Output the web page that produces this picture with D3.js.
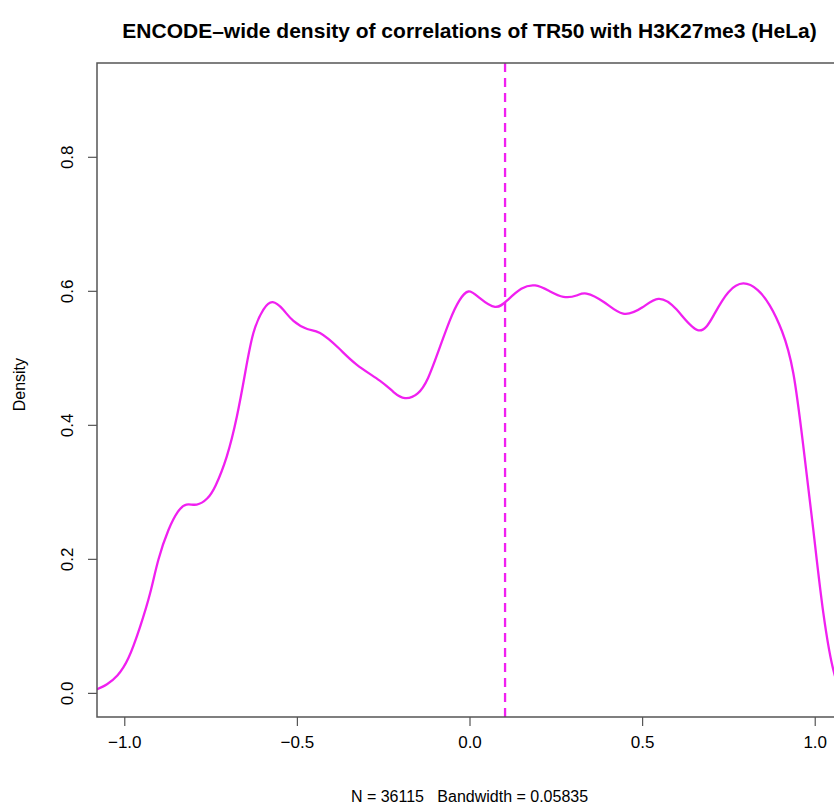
<!DOCTYPE html>
<html>
<head>
<meta charset="utf-8">
<script src="https://cdn.jsdelivr.net/npm/d3@7"></script>
<style>
  body { margin: 0; background: #fff; }
  text { font-family: "Liberation Sans", Arial, Helvetica, sans-serif; fill: #000; }
</style>
</head>
<body>
<svg id="chart" width="834" height="806"></svg>
<script>
// density estimate
var xVals = [-1.08, -1.05, -1.02, -0.988, -0.954, -0.925, -0.901, -0.872, -0.845, -0.82,
    -0.79, -0.76, -0.735, -0.703, -0.674, -0.65, -0.626, -0.597, -0.57, -0.54,
    -0.51, -0.47, -0.433, -0.38, -0.327, -0.26, -0.22, -0.187, -0.15, -0.12,
    -0.09, -0.056, -0.03, -0.003, 0.03, 0.074, 0.11, 0.15, 0.19, 0.23,
    0.272, 0.31, 0.339, 0.39, 0.445, 0.50, 0.547, 0.60, 0.663, 0.71,
    0.75, 0.793, 0.835, 0.87, 0.905, 0.938, 0.967, 0.996, 1.025, 1.056, 1.08];
var yVals = [0.005, 0.013, 0.026, 0.052, 0.099, 0.149, 0.199, 0.243, 0.27, 0.281,
    0.281, 0.29, 0.31, 0.353, 0.412, 0.477, 0.537, 0.572, 0.583, 0.572,
    0.555, 0.543, 0.537, 0.515, 0.49, 0.466, 0.449, 0.44, 0.447, 0.47,
    0.51, 0.557, 0.585, 0.599, 0.589, 0.576, 0.586, 0.603, 0.608, 0.60,
    0.591, 0.593, 0.596, 0.583, 0.566, 0.575, 0.588, 0.572, 0.541, 0.566,
    0.598, 0.611, 0.601, 0.578, 0.54, 0.477, 0.368, 0.243, 0.119, 0.03, 0.005];
var xTicks = [-1.0, -0.5, 0.0, 0.5, 1.0];
var yTicks = [0.0, 0.2, 0.4, 0.6, 0.8];
var markX = 0.103;

var titleText = "ENCODE\u2013wide density of correlations of TR50 with H3K27me3 (HeLa)";
var subText = "N = 36115   Bandwidth = 0.05835";

var svg = d3.select("#chart");
var pLeft = 97, pRight = 842, pTop = 63, pBottom = 717;

var x = d3.scaleLinear().domain([-1.079, 1.079]).range([pLeft, pRight]);
var y = d3.scaleLinear().domain([-0.036, 0.94]).range([pBottom, pTop]);

var pts = xVals.map(function(d, i) { return [d, yVals[i]]; });

// curve
var line = d3.line()
    .x(function(d) { return x(d[0]); })
    .y(function(d) { return y(d[1]); })
    .curve(d3.curveNatural);

svg.append("defs").append("clipPath").attr("id", "clip")
    .append("rect").attr("x", pLeft).attr("y", pTop)
    .attr("width", pRight - pLeft).attr("height", pBottom - pTop);

svg.append("path")
    .datum(pts)
    .attr("clip-path", "url(#clip)")
    .attr("fill", "none")
    .attr("stroke", "#f020f0")
    .attr("stroke-width", 2.3)
    .attr("d", line);

// dashed marker
svg.append("line")
    .attr("x1", x(markX)).attr("x2", x(markX))
    .attr("y1", pTop).attr("y2", pBottom)
    .attr("stroke", "#f020f0")
    .attr("stroke-width", 2.3)
    .attr("stroke-dasharray", "9,6");

// box
svg.append("rect")
    .attr("x", pLeft).attr("y", pTop)
    .attr("width", pRight - pLeft).attr("height", pBottom - pTop)
    .attr("fill", "none")
    .attr("stroke", "#555")
    .attr("stroke-width", 1.5);

// axes
var xAxis = d3.axisBottom(x).tickValues(xTicks).tickSize(9).tickPadding(10)
    .tickFormat(function(d) { return d3.format(".1f")(d).replace("-", "\u2212"); });
var gx = svg.append("g").attr("transform", "translate(0," + pBottom + ")").call(xAxis);
gx.select(".domain").remove();
gx.selectAll(".tick line").attr("stroke", "#555").attr("stroke-width", 1.2);
gx.selectAll(".tick text").style("font-size", "17px").attr("fill", "#000");

var yAxis = d3.axisLeft(y).tickValues(yTicks).tickSize(9)
    .tickFormat(d3.format(".1f"));
var gy = svg.append("g").attr("transform", "translate(" + pLeft + ",0)").call(yAxis);
gy.select(".domain").remove();
gy.selectAll(".tick line").attr("stroke", "#555").attr("stroke-width", 1.2);
gy.selectAll(".tick text")
    .style("font-size", "17px")
    .attr("fill", "#000")
    .attr("x", null).attr("dy", null)
    .attr("text-anchor", "middle")
    .attr("transform", "translate(-24,0) rotate(-90)");

// labels
svg.append("text")
    .attr("x", (pLeft + pRight) / 2).attr("y", 38)
    .attr("text-anchor", "middle")
    .style("font-size", "21px").style("font-weight", "bold")
    .text(titleText);

svg.append("text")
    .attr("transform", "translate(25," + y(0.46) + ") rotate(-90)")
    .attr("text-anchor", "middle")
    .style("font-size", "16px")
    .text("Density");

svg.append("text")
    .attr("x", (pLeft + pRight) / 2).attr("y", 802)
    .attr("text-anchor", "middle")
    .style("font-size", "16px")
    .style("white-space", "pre")
    .text(subText);
</script>
</body>
</html>
